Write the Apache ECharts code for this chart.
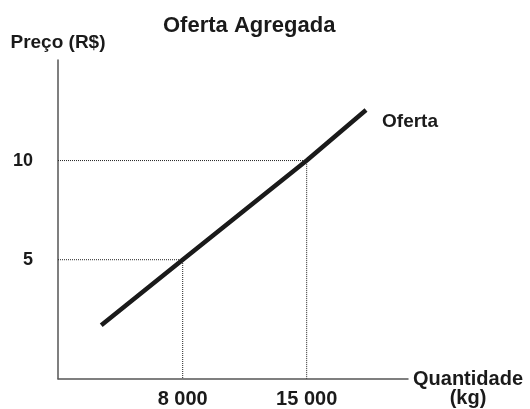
<!DOCTYPE html>
<html>
<head>
<meta charset="utf-8">
<script src="https://cdn.jsdelivr.net/npm/echarts@6/dist/echarts.min.js"></script>
<style>
html,body{margin:0;padding:0;background:#fff;}
#chart{width:530px;height:409px;}
</style>
</head>
<body>
<div id="chart"></div>
<script>
// Data
var supplyQty = [3400, 8000, 15000, 18350];
var supplyPrice = [1.7, 5, 10, 12.55];
var xTicks = [8000, 15000];
var yTicks = [5, 10];
var guideQty = [8000, 15000];
var guidePrice = [5, 10];
var xMin = 960, xMax = 20720, yMin = -1, yMax = 15.07;

var FONT = '"Liberation Sans", Arial, sans-serif';

function fmtThousands(v) {
  return String(v).replace(/\B(?=(\d{3})+(?!\d))/g, ' ');
}

var supplyData = supplyQty.map(function (q, i) { return [q, supplyPrice[i]]; });

var guideSeries = guideQty.map(function (q, i) {
  return {
    type: 'line',
    data: [[xMin, guidePrice[i]], [q, guidePrice[i]], [q, yMin]],
    symbol: 'none',
    silent: true,
    z: 1,
    lineStyle: { color: '#222', width: 1, type: [1, 1] }
  };
});

var chart = echarts.init(document.getElementById('chart'), null, { renderer: 'canvas' });
chart.setOption({
  animation: false,
  backgroundColor: '#fff',
  title: {
    text: 'Oferta Agregada',
    left: 163, top: 15, padding: 0,
    textStyle: { fontFamily: FONT, fontWeight: 'bold', fontSize: 22, color: '#1a1a1a' }
  },
  grid: { left: 58, right: 122, top: 60, bottom: 30.3, containLabel: false, outerBoundsMode: 'none' },
  xAxis: {
    type: 'value', min: xMin, max: xMax,
    name: '{q1|Quantidade}\n{q2|(kg)}',
    nameLocation: 'end', nameGap: 60,
    nameTextStyle: {
      fontFamily: FONT, fontWeight: 'bold', fontSize: 20, color: '#1a1a1a',
      align: 'center', verticalAlign: 'top',
      rich: {
        q1: { fontFamily: FONT, fontWeight: 'bold', fontSize: 20, color: '#1a1a1a', lineHeight: 1, align: 'center' },
        q2: { fontFamily: FONT, fontWeight: 'bold', fontSize: 20, color: '#1a1a1a', lineHeight: 38, align: 'center' }
      }
    },
    axisLine: { show: true, onZero: false, lineStyle: { color: '#555', width: 1.5 } },
    axisTick: { show: false },
    splitLine: { show: false },
    axisLabel: {
      customValues: xTicks,
      formatter: function (v) { return fmtThousands(v); },
      margin: 11,
      fontFamily: FONT, fontWeight: 'bold', fontSize: 20, color: '#1a1a1a'
    }
  },
  yAxis: {
    type: 'value', min: yMin, max: yMax,
    name: 'Preço (R$)',
    nameLocation: 'end', nameGap: 17,
    nameTextStyle: { fontFamily: FONT, fontWeight: 'bold', fontSize: 19, color: '#1a1a1a', verticalAlign: 'middle' },
    axisLine: { show: true, onZero: false, lineStyle: { color: '#555', width: 1.5 } },
    axisTick: { show: false },
    splitLine: { show: false },
    axisLabel: {
      customValues: yTicks,
      margin: 25,
      fontFamily: FONT, fontWeight: 'bold', fontSize: 18, color: '#1a1a1a'
    }
  },
  series: guideSeries.concat([{
    type: 'line',
    name: 'Oferta',
    data: supplyData,
    symbol: 'none',
    z: 3,
    lineStyle: { color: '#1a1a1a', width: 4.5, cap: 'butt' },
    endLabel: {
      show: true,
      formatter: 'Oferta',
      offset: [8, 12],
      fontFamily: FONT, fontWeight: 'bold', fontSize: 19, color: '#1a1a1a'
    }
  }])
});
</script>
</body>
</html>
